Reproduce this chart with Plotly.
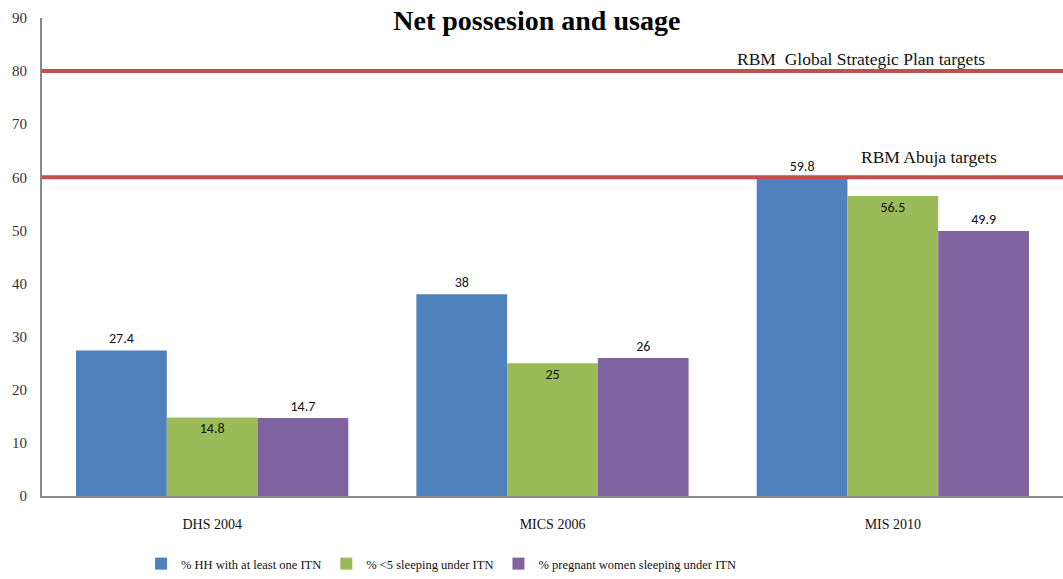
import plotly.graph_objects as go

categories = ["DHS 2004", "MICS 2006", "MIS 2010"]
series_names = ["% HH with at least one ITN", "% <5 sleeping under ITN", "% pregnant women sleeping under ITN"]
hh_itn = [27.4, 38, 59.8]
under5_itn = [14.8, 25, 56.5]
pregnant_itn = [14.7, 26, 49.9]
target_levels = [80, 60]
target_labels = ["RBM  Global Strategic Plan targets", "RBM Abuja targets"]
y_ticks = [0, 10, 20, 30, 40, 50, 60, 70, 80, 90]

colors = ["#4F81BD", "#9BBB59", "#8064A2"]
label_font = dict(family="Carlito, Liberation Sans, Arial", size=14, color="#111")
serif = "Liberation Serif, Times New Roman"

fig = go.Figure()
for name, vals, col, pos in zip(series_names, [hh_itn, under5_itn, pregnant_itn], colors,
                                ["outside", "inside", "outside"]):
    fig.add_trace(go.Bar(
        x=categories, y=vals, name=name, marker=dict(color=col, line=dict(width=0)),
        text=[f"{v:g}" for v in vals], textposition=pos, insidetextanchor="end",
        textfont=label_font, outsidetextfont=label_font, insidetextfont=label_font,
        cliponaxis=False,
    ))

for lvl in target_levels:
    fig.add_shape(type="line", xref="paper", yref="y", x0=0, x1=1, y0=lvl, y1=lvl,
                  line=dict(color="#C0504D", width=4), layer="above")

fig.add_annotation(x=0.679, xref="paper", y=target_levels[0], yref="y", text=target_labels[0],
                   showarrow=False, xanchor="left", yanchor="bottom", yshift=0,
                   font=dict(family=serif, size=17.5, color="#111"))
fig.add_annotation(x=0.8, xref="paper", y=target_levels[1], yref="y", text=target_labels[1],
                   showarrow=False, xanchor="left", yanchor="bottom", yshift=8,
                   font=dict(family=serif, size=17.5, color="#111"))

fig.update_layout(
    width=1063, height=579,
    margin=dict(l=42, r=0, t=18, b=83),
    paper_bgcolor="white", plot_bgcolor="white",
    barmode="group", bargap=0.2, bargroupgap=0,
    title=dict(text="<b>Net possesion and usage</b>", x=0.505, xanchor="center", y=0.965, yanchor="middle",
               font=dict(family=serif, size=28, color="#000")),
    xaxis=dict(showline=True, linecolor="#888", linewidth=2, ticks="", showgrid=False,
               ticklabelstandoff=14,
               tickfont=dict(family=serif, size=14, color="#111")),
    yaxis=dict(range=[0, 90], tickvals=y_ticks, showline=True, linecolor="#888", linewidth=2,
               showgrid=False, zeroline=False, ticks="", ticklen=0, ticklabelstandoff=10,
               tickfont=dict(family=serif, size=15, color="#333")),
    legend=dict(orientation="h", x=0.097, xanchor="left", y=-0.174, yanchor="bottom",
                font=dict(family=serif, size=12.5, color="#111"),
                itemwidth=30, traceorder="normal"),
)
fig.write_html("out.html")
